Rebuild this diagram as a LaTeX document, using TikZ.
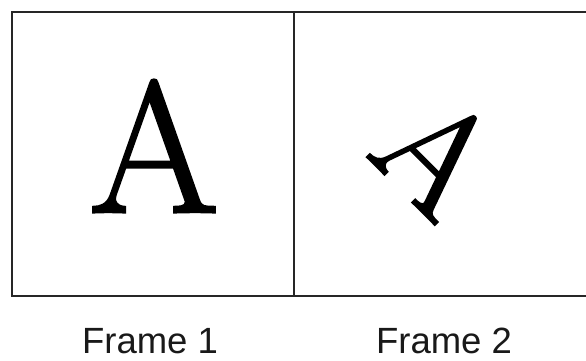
\documentclass[tikz,border=0pt]{standalone}
\usepackage{fontspec}
\newfontfamily\labelfont{Liberation Sans}
\newfontfamily\letterfont[FakeBold=1.6]{Latin Modern Roman}
\begin{document}
\begin{tikzpicture}[x=1pt,y=-1pt,
  frameline/.style={draw=black!85,line width=2pt},
  bigletter/.style={inner sep=0pt,outer sep=0pt,anchor=center,text=black},
  caption/.style={inner sep=0pt,anchor=base,font=\labelfont\fontsize{36.5}{40}\selectfont,text=black!90}]
\useasboundingbox[fill=white] (0,0) rectangle (586,360);
\coordinate (tl) at (12,12);
\coordinate (bl) at (12,296);
\coordinate (tr) at (586,12);
\coordinate (br) at (586,296);
\coordinate (dt) at (294,12);
\coordinate (db) at (294,296);
\draw[frameline] (tr) -- (tl) -- (bl) -- (br);
\draw[frameline] (dt) -- (db);
\node[bigletter,font=\letterfont\fontsize{187}{190}\selectfont] (a1) at (154,146) {A};
\node[bigletter,font=\letterfont\fontsize{148}{150}\selectfont,rotate=-45] (a2) at (438,154) {A};
\node[caption] (f1) at (150,353.5) {Frame 1};
\node[caption] (f2) at (444,353.5) {Frame 2};
\end{tikzpicture}
\end{document}
